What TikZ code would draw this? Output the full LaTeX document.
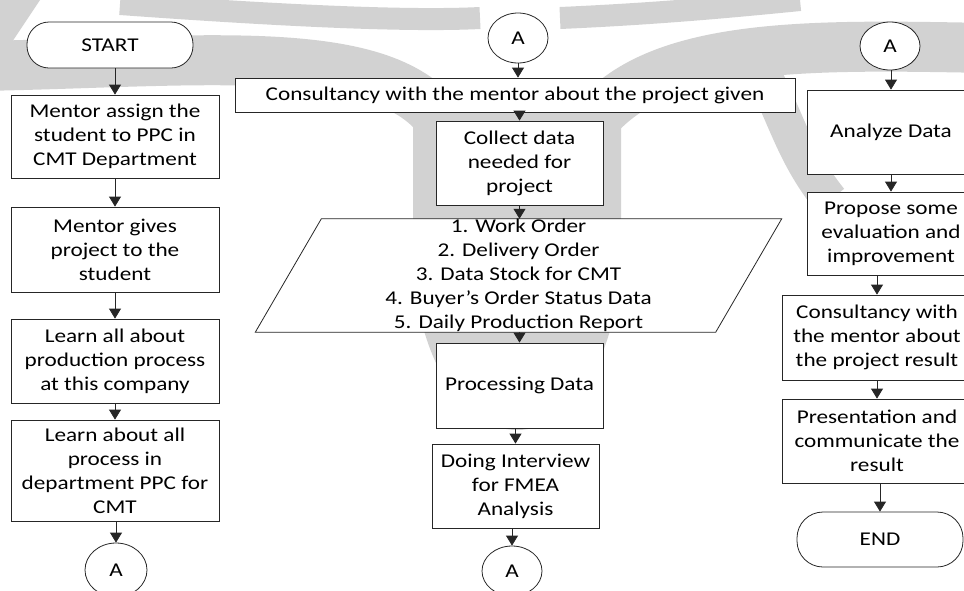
\documentclass[tikz,border=0pt]{standalone}
\usepackage{fontspec}
\setmainfont{Carlito}[FakeStretch=1.19]
\usetikzlibrary{shapes.geometric,arrows.meta}

\definecolor{ln}{HTML}{262626}
\definecolor{wm}{HTML}{D2D2D2}

\tikzset{
  every node/.style={font=\fontsize{19.5}{24}\selectfont},
  flowbox/.style={draw=ln, line width=0.8pt, fill=white, rectangle, align=center, inner sep=0pt},
  terminal/.style={flowbox, rounded corners=22pt},
  connector/.style={draw=ln, line width=0.8pt, fill=white, ellipse, inner sep=0pt},
  arr/.style={draw=ln, line width=0.8pt, -{Triangle[width=12pt,length=10pt]}},
  wmband/.style={draw=wm, line cap=butt},
}

\begin{document}
\begin{tikzpicture}[x=1pt,y=-1pt]
\useasboundingbox (0,0) rectangle (964,590);
\clip (0,0) rectangle (964,590);

% ---------- background emblem (light grey) ----------
\fill[wm] (413,90) -- (413,250) arc[start angle=180, end angle=0, x radius=104, y radius=180] -- (621,90) -- cycle;
\draw[wmband, line width=50pt] (-20,66) .. controls (200,62) and (380,40) .. (440,120);
\draw[wmband, line width=50pt] (990,48) .. controls (820,45) and (660,40) .. (595,120);
\draw[wmband, line width=36pt] (755,60) .. controls (785,110) and (790,150) .. (830,200);
\draw[wmband, line width=22pt] (120,4) .. controls (260,14) and (400,22) .. (480,18);
\draw[wmband, line width=22pt] (560,18) .. controls (650,14) and (720,8) .. (800,0);
\fill[wm] (0,0) -- (40,0) -- (0,60) -- cycle;

% ---------- left column ----------
\node[terminal, minimum width=166pt, minimum height=46pt] (start) at (110,45) {START};
\node[flowbox, minimum width=208pt, minimum height=83pt] (b1) at (115,136.5)
  {Mentor assign the\\student to PPC in\\CMT Department};
\node[flowbox, minimum width=208pt, minimum height=85pt] (b2) at (115,249.5)
  {Mentor gives\\project to the\\student};
\node[flowbox, minimum width=208pt, minimum height=84pt] (b3) at (115,361)
  {Learn all about\\production process\\at this company};
\node[flowbox, minimum width=208pt, minimum height=101pt] (b4) at (115,470.5)
  {Learn about all\\process in\\department PPC for\\CMT};
\node[connector, minimum width=62pt, minimum height=54pt] (aL) at (116,570) {A};

\draw[arr] (b1.north |- start.south) -- (b1.north);
\draw[arr] (b1) -- (b2);
\draw[arr] (b2) -- (b3);
\draw[arr] (b3) -- (b4);
\draw[arr] (aL.north |- b4.south) -- (aL.north);

% ---------- middle column ----------
\node[connector, minimum width=60pt, minimum height=50pt] (aM) at (518,38) {A};
\node[flowbox, minimum width=560pt, minimum height=34pt] (cons) at (515,95)
  {Consultancy with the mentor about the project given};
\node[flowbox, minimum width=167pt, minimum height=84pt] (collect) at (519.5,163)
  {Collect data\\needed for\\project};
\node[minimum width=460pt, minimum height=113pt, inner sep=0pt, align=center] (data) at (518.5,275.5) {};
\fill[white, draw=ln, line width=0.8pt]
  ([xshift=33pt]data.north west) -- ([xshift=33pt]data.north east)
  -- ([xshift=-33pt]data.south east) -- ([xshift=-33pt]data.south west) -- cycle;
\node[align=center, inner sep=0pt] (datatext) at (data.center)
  {1. Work Order\\2. Delivery Order\\3. Data Stock for CMT\\4. Buyer’s Order Status Data\\5. Daily Production Report};
\node[flowbox, minimum width=167pt, minimum height=85pt] (proc) at (519.5,385.5) {Processing Data};
\node[flowbox, minimum width=167pt, minimum height=84pt] (doing) at (515.5,486)
  {Doing Interview\\for FMEA\\Analysis};
\node[connector, minimum width=60pt, minimum height=50pt] (aM2) at (512,571) {A};

\draw[arr] (aM.south) -- (aM.south |- cons.north);
\draw[arr] (collect.north |- cons.south) -- (collect.north);
\draw[arr] (collect.south) -- (collect.south |- data.north);
\draw[arr] (proc.north |- data.south) -- (proc.north);
\draw[arr] (doing.north |- proc.south) -- (doing.north);
\draw[arr] (aM2.north |- doing.south) -- (aM2.north);

% ---------- right column ----------
\node[connector, minimum width=60pt, minimum height=48pt] (aR) at (890,46) {A};
\node[flowbox, minimum width=168pt, minimum height=84pt] (analyze) at (891,132) {Analyze Data};
\node[flowbox, minimum width=168pt, minimum height=83pt] (propose) at (891,233.5)
  {Propose some\\evaluation and\\improvement};
\node[flowbox, minimum width=190pt, minimum height=85pt] (cons2) at (877,337.5)
  {Consultancy with\\the mentor about\\the project result};
\node[flowbox, minimum width=190pt, minimum height=84pt] (pres) at (877,441)
  {Presentation and\\communicate the\\result};
\node[terminal, minimum width=166pt, minimum height=55pt, rounded corners=26pt] (endT) at (880,539.5) {END};

\draw[arr] (analyze.north |- aR.south) -- (analyze.north);
\draw[arr] (analyze) -- (propose);
\draw[arr] (cons2.north |- propose.south) -- (cons2.north);
\draw[arr] (cons2) -- (pres);
\draw[arr] (endT.north |- pres.south) -- (endT.north);
\end{tikzpicture}
\end{document}
